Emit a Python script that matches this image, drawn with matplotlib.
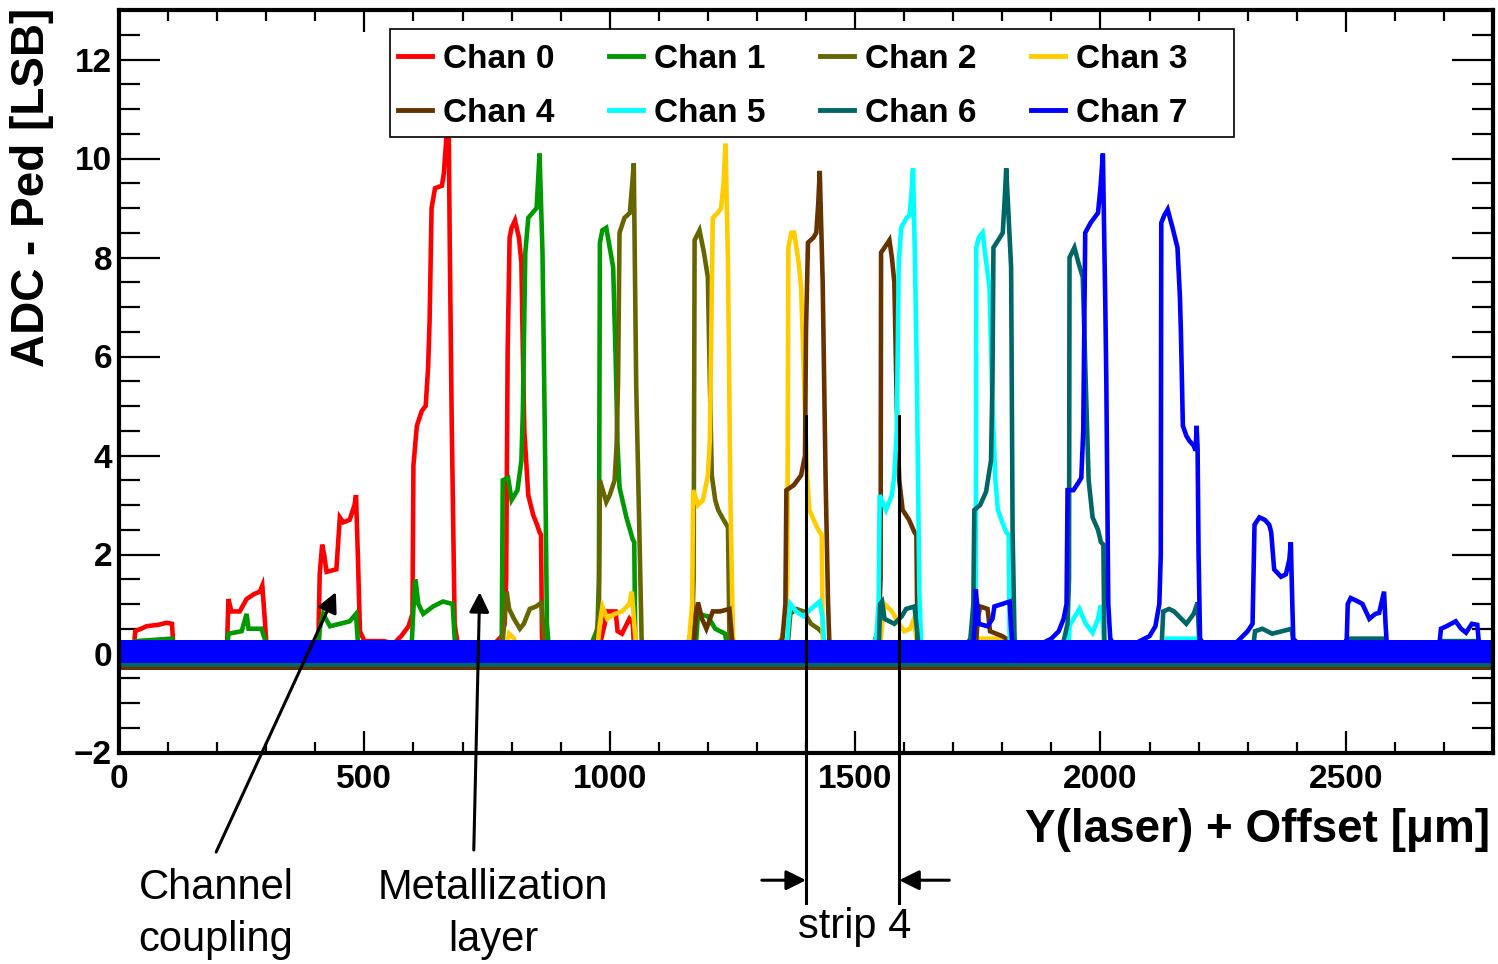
import numpy as np
import matplotlib
matplotlib.use('Agg')
import matplotlib.pyplot as plt
from matplotlib.ticker import MultipleLocator
from matplotlib.patches import Rectangle
from matplotlib.lines import Line2D

plt.rcParams['font.family'] = ['Liberation Sans', 'DejaVu Sans']

# ---- laser scan profiles, (Y position [um], ADC - Ped [LSB]) breakpoints per channel
chan0 = [(0, 0.05), (30, 0.05), (33, 0.45), (45, 0.5), (56, 0.55), (80, 0.58), (97, 0.62), (108, 0.6), (111, 0.1),
         (220, 0.1), (223, 1.1), (229, 0.85), (246, 0.85), (260, 1.1), (275, 1.2), (287, 1.25), (292, 1.37), (297, 0.7), (301, 0.1),
         (406, 0.1), (409, 1.6), (414, 2.2), (418, 2.0), (423, 1.65), (443, 1.7), (450, 2.75), (457, 2.65), (470, 2.7),
         (480, 3.0), (483, 3.2), (487, 1.9), (491, 0.45), (500, 0.25), (540, 0.25), (560, 0.2),
         (575, 0.35), (590, 0.55), (598, 0.8), (600, 3.8), (607, 4.6), (617, 4.9), (625, 5.0), (630, 5.8), (633, 6.75),
         (637, 9.0), (644, 9.4), (658, 9.45), (662, 9.7), (668, 10.55), (672, 10.5), (674, 8.3), (678, 4.7), (684, 0.6), (690, 0.2),
         (740, 0.1), (765, 0.2), (780, 0.35), (786, 0.6), (789, 1.5), (792, 6.1), (796, 8.4), (800, 8.6), (807, 8.75),
         (815, 8.4), (820, 7.9), (823, 6.1), (826, 4.5), (834, 3.2), (844, 2.8), (852, 2.6), (857, 2.45), (860, 2.4), (862, 0.3), (870, 0.1),
         (978, 0.1), (990, 0.6), (993, 0.85), (1012, 0.85), (1016, 0.45), (1025, 0.4), (1040, 0.7), (1047, 0.6), (1050, 0.05),
         (2800, 0.05)]

chan1 = [(0, 0.0), (30, 0.0), (33, 0.25), (108, 0.3), (111, 0.0), (220, 0.0), (223, 0.4), (250, 0.45), (260, 0.8),
         (264, 0.5), (290, 0.5), (297, 0.3), (301, 0.0),
         (406, 0.0), (409, 0.5), (416, 0.8), (430, 0.55), (450, 0.6), (470, 0.65), (483, 0.8), (487, 0.2), (491, 0.0),
         (596, 0.1), (600, 0.9), (604, 1.5), (610, 1.0), (620, 0.8), (640, 0.95), (660, 1.05), (680, 1.0), (684, 0.3), (690, 0.05),
         (775, 0.1), (780, 0.3), (782, 3.5), (793, 3.55), (800, 3.1), (812, 3.3), (820, 3.9), (823, 4.9), (828, 8.1),
         (834, 8.8), (851, 9.0), (857, 10.1), (863, 8.1), (868, 4.3), (872, 0.6), (876, 0.1),
         (950, 0.1), (965, 0.25), (975, 0.5), (978, 1.5), (980, 8.3), (985, 8.55), (993, 8.6), (1000, 8.2), (1007, 7.8),
         (1012, 6.0), (1016, 4.2), (1020, 3.35), (1034, 2.75), (1047, 2.3), (1050, 2.25), (1052, 0.3), (1060, 0.1),
         (1175, 0.1), (1180, 0.8), (1200, 0.75), (1215, 0.5), (1235, 0.4), (1241, 0.05),
         (2800, 0.0)]

chan2 = [(0, -0.05), (780, -0.05), (786, 0.8), (790, 1.25), (795, 0.9), (805, 0.7), (817, 0.5), (825, 0.6), (837, 0.9),
         (850, 0.95), (861, 1.03), (864, 0.6), (868, 0.0),
         (960, 0.1), (972, 0.3), (978, 0.8), (980, 3.5), (993, 3.06), (1000, 3.2), (1010, 3.5), (1014, 4.2), (1017, 5.5),
         (1020, 8.5), (1030, 8.8), (1041, 8.9), (1046, 9.5), (1049, 9.9), (1054, 5.4), (1061, 2.2), (1065, 0.3), (1068, 0.0),
         (1140, 0.05), (1160, 0.2), (1168, 0.5), (1171, 1.5), (1173, 8.35), (1178, 8.45), (1183, 8.55), (1192, 8.1),
         (1200, 7.6), (1204, 5.5), (1208, 3.6), (1215, 3.1), (1221, 2.9), (1232, 2.7), (1241, 2.55), (1244, 0.3), (1250, 0.0),
         (1362, 0.05), (1368, 0.8), (1380, 0.9), (1395, 0.85), (1410, 0.6), (1425, 0.5), (1435, 0.4), (1440, -0.05),
         (2800, -0.05)]

chan3 = [(0, -0.05), (786, -0.05), (795, 0.4), (805, 0.3), (815, -0.05),
         (975, 0.1), (980, 0.6), (985, 0.95), (995, 0.7), (1010, 0.8), (1025, 0.85), (1040, 1.0), (1045, 1.25), (1050, 0.6), (1055, 0.0),
         (1150, 0.1), (1162, 0.3), (1168, 1.0), (1170, 3.3), (1180, 3.0), (1190, 3.1), (1200, 3.6), (1204, 4.3),
         (1210, 8.8), (1220, 8.9), (1227, 9.0), (1232, 9.5), (1236, 10.3), (1241, 7.9), (1246, 3.1), (1251, 0.4), (1255, 0.0),
         (1330, 0.1), (1350, 0.3), (1358, 0.6), (1362, 1.5), (1364, 8.2), (1370, 8.5), (1376, 8.5), (1385, 7.9), (1390, 7.4),
         (1396, 5.5), (1402, 3.6), (1407, 2.9), (1420, 2.6), (1428, 2.45), (1432, 2.4), (1434, 0.3), (1440, 0.0),
         (1550, 0.0), (1555, 0.6), (1560, 1.0), (1575, 0.85), (1590, 0.6), (1600, 0.45), (1612, 0.5), (1620, 0.7), (1625, 0.3), (1630, 0.0),
         (1745, -0.05), (1750, 0.3), (1800, 0.3), (1810, -0.1),
         (2800, -0.1)]

chan4 = [(0, 0.0), (1170, 0.0), (1176, 0.8), (1180, 1.03), (1188, 0.7), (1197, 0.5), (1210, 0.85), (1225, 0.85),
         (1244, 0.9), (1250, 0.2), (1255, 0.0),
         (1340, 0.1), (1352, 0.3), (1358, 1.0), (1360, 3.3), (1375, 3.4), (1390, 3.6), (1398, 4.0), (1400, 6.5),
         (1404, 8.3), (1415, 8.4), (1421, 8.5), (1425, 9.1), (1428, 9.75), (1434, 7.5), (1440, 3.5), (1445, 1.0), (1448, 0.1),
         (1520, 0.05), (1540, 0.25), (1548, 0.5), (1552, 1.5), (1553, 8.1), (1560, 8.2), (1570, 8.35), (1575, 8.0),
         (1580, 7.5), (1585, 5.0), (1590, 3.5), (1597, 2.9), (1610, 2.7), (1621, 2.45), (1625, 2.4), (1627, 0.3), (1632, -0.05),
         (1745, -0.05), (1750, 0.7), (1755, 0.95), (1770, 0.9), (1775, 0.45), (1800, 0.35), (1808, 0.3), (1812, -0.1),
         (1830, -0.15), (2800, -0.15)]

chan5 = [(0, 0.0), (1360, 0.05), (1365, 0.7), (1368, 1.0), (1380, 0.85), (1395, 0.75), (1410, 0.9), (1428, 1.05),
         (1434, 0.7), (1438, 0.05),
         (1530, 0.1), (1543, 0.3), (1548, 1.0), (1550, 3.2), (1563, 2.9), (1575, 3.2), (1580, 3.6), (1585, 4.5),
         (1589, 7.9), (1594, 8.6), (1605, 8.8), (1611, 8.85), (1615, 9.3), (1618, 9.8), (1622, 8.0), (1626, 5.5), (1631, 1.2), (1635, 0.1),
         (1715, 0.05), (1735, 0.25), (1742, 0.6), (1746, 1.5), (1747, 8.2), (1752, 8.4), (1760, 8.5), (1766, 8.0),
         (1774, 7.4), (1780, 5.0), (1786, 3.5), (1791, 2.9), (1800, 2.65), (1808, 2.45), (1813, 2.4), (1815, 0.3), (1820, 0.0),
         (1935, 0.05), (1937, 0.56), (1945, 0.7), (1957, 0.9), (1970, 0.6), (1984, 0.42), (1995, 0.7), (2001, 0.97),
         (2005, 0.6), (2008, 0.05),
         (2130, 0.0), (2135, 0.3), (2195, 0.3), (2200, 0.0),
         (2315, 0.0), (2320, 0.2), (2390, 0.2), (2395, 0.0),
         (2800, 0.0)]

chan6 = [(0, 0.0), (1548, 0.0), (1551, 1.0), (1555, 1.05), (1560, 0.7), (1580, 0.6), (1595, 0.75), (1604, 0.9),
         (1621, 0.95), (1626, 0.5), (1631, -0.05),
         (1722, 0.1), (1735, 0.3), (1741, 1.0), (1743, 2.9), (1755, 3.0), (1767, 3.27), (1777, 3.9), (1780, 5.5),
         (1782, 8.2), (1795, 8.4), (1801, 8.5), (1805, 9.2), (1808, 9.8), (1813, 8.8), (1818, 7.8), (1821, 2.5), (1825, 0.3), (1829, 0.0),
         (1905, 0.05), (1925, 0.25), (1933, 0.6), (1936, 1.5), (1937, 8.0), (1942, 8.1), (1947, 8.2), (1955, 7.9),
         (1964, 7.6), (1970, 5.5), (1976, 3.5), (1984, 2.75), (1995, 2.5), (2001, 2.25), (2006, 2.2), (2008, 0.3), (2012, 0.0),
         (2124, 0.0), (2128, 0.85), (2140, 0.9), (2150, 0.85), (2165, 0.7), (2175, 0.6), (2190, 0.8), (2198, 1.03), (2202, 0.1),
         (2310, 0.0), (2315, 0.45), (2330, 0.5), (2350, 0.4), (2370, 0.45), (2390, 0.5), (2395, 0.05),
         (2500, 0.0), (2505, 0.3), (2580, 0.3), (2585, 0.0),
         (2690, 0.0), (2695, 0.25), (2770, 0.25), (2775, 0.0),
         (2800, 0.0)]

chan7 = [(0, 0.08), (1740, 0.08), (1744, 0.6), (1746, 1.3), (1752, 0.6), (1770, 0.55), (1780, 0.7), (1784, 0.95),
         (1800, 1.0), (1815, 1.05), (1818, 0.5), (1821, 0.12),
         (1860, 0.1), (1880, 0.2), (1900, 0.3), (1915, 0.45), (1925, 0.7), (1931, 1.0),
         (1933, 3.3), (1945, 3.3), (1955, 3.45), (1961, 3.55), (1965, 4.5), (1969, 8.5), (1980, 8.7), (1995, 8.9),
         (2000, 9.4), (2005, 10.1), (2010, 7.0), (2012, 5.5), (2016, 1.0), (2020, 0.3), (2030, 0.15),
         (2060, 0.15), (2080, 0.25), (2100, 0.35), (2112, 0.55), (2120, 1.0), (2123, 2.0),
         (2124, 8.7), (2130, 8.85), (2137, 8.97), (2147, 8.6), (2157, 8.2), (2162, 7.2), (2164, 6.5), (2168, 4.6),
         (2175, 4.4), (2181, 4.3), (2190, 4.2), (2194, 4.1), (2196, 4.6), (2198, 4.15), (2200, 2.0), (2203, 0.3), (2215, 0.12),
         (2260, 0.12), (2280, 0.25), (2300, 0.45), (2310, 0.6),
         (2314, 2.6), (2324, 2.75), (2335, 2.7), (2344, 2.6), (2348, 2.45), (2354, 1.7), (2368, 1.55), (2378, 1.6),
         (2385, 1.9), (2388, 2.25), (2391, 1.0), (2393, 0.3), (2410, 0.12),
         (2495, 0.12), (2502, 0.3), (2504, 1.0), (2510, 1.12), (2525, 1.05), (2534, 1.0), (2548, 0.7), (2560, 0.8),
         (2568, 0.82), (2578, 1.25), (2581, 0.6), (2584, 0.12),
         (2690, 0.12), (2694, 0.5), (2705, 0.55), (2724, 0.65), (2735, 0.5), (2745, 0.42), (2757, 0.6), (2768, 0.58),
         (2772, 0.12), (2800, 0.12)]

channels = [chan0, chan1, chan2, chan3, chan4, chan5, chan6, chan7]
labels = ['Chan 0', 'Chan 1', 'Chan 2', 'Chan 3', 'Chan 4', 'Chan 5', 'Chan 6', 'Chan 7']
colors = ['#ff0000', '#009900', '#666600', '#ffcc00', '#663300', '#00ffff', '#006666', '#0000ff']

# pedestal noise envelope [LSB]: lower fringe of the slow channels, then the blue band on top
noise_lo = [None, None, None, -0.3, -0.34, None, -0.27, -0.2]
noise_hi = [None, None, None, 0.0, 0.0, None, 0.0, 0.28]

strip4 = [1400, 1590]          # strip 4 edges [um]
coupling_tip = (442, 1.24)
metal_tip = (735, 1.24)

W, H = 1498, 964


def fx(px):
    return px / W


def fy(py):
    return 1 - py / H


fig = plt.figure(figsize=(W / 100, H / 100), dpi=100)
ax = fig.add_axes([fx(119), fy(752.5), (1493 - 119) / W, (752.5 - 10) / H])

last = len(channels) - 1
for i in range(len(channels)):
    if noise_lo[i] is not None:
        # the last channel's noise is drawn over the earlier traces
        z = 3 if i == last else 1
        ax.fill_between([0, 2800], noise_lo[i], noise_hi[i], color=colors[i], lw=0, zorder=z)
for i, pts in enumerate(channels):
    arr = np.array(pts)
    ax.plot(arr[:, 0], arr[:, 1], color=colors[i], lw=3.3, zorder=4 if i == last else 2,
            solid_joinstyle='miter')

ax.set_xlim(0, 2800)
ax.set_ylim(-2, 13)
ax.xaxis.set_major_locator(MultipleLocator(500))
ax.xaxis.set_minor_locator(MultipleLocator(100))
ax.yaxis.set_major_locator(MultipleLocator(2))
ax.yaxis.set_minor_locator(MultipleLocator(0.5))
ax.tick_params(which='both', direction='in', top=True, right=True, width=1.6, labelsize=24)
ax.tick_params(axis='x', which='major', length=16, pad=8)
ax.tick_params(axis='x', which='minor', length=8)
ax.tick_params(axis='y', which='major', length=29.5, pad=5)
ax.tick_params(axis='y', which='minor', length=14.8)
for lab in ax.get_xticklabels() + ax.get_yticklabels():
    lab.set_fontweight('bold')
for sp in ax.spines.values():
    sp.set_linewidth(3)
    sp.set_zorder(6)

fig.text(fx(32), fy(8), 'ADC - Ped [LSB]', rotation=90, ha='center', va='top',
         fontsize=33, fontweight='bold')
fig.text(fx(1490), fy(830), 'Y(laser) + Offset [μm]', ha='right', va='center',
         fontsize=33, fontweight='bold')

# legend box, two rows of four
fig.patches.append(Rectangle((fx(390), fy(137)), (1234 - 390) / W, (137 - 29) / H,
                             transform=fig.transFigure, facecolor='white',
                             edgecolor='black', lw=1.2, zorder=5))
for i, lab in enumerate(labels):
    col, row = i % 4, i // 4
    x0 = 398 + 211 * col
    yc = 56 + 54 * row
    fig.lines.append(Line2D([fx(x0), fx(x0 + 34)], [fy(yc), fy(yc)], transform=fig.transFigure,
                            color=colors[i], lw=3.5, zorder=6))
    fig.text(fx(x0 + 45), fy(yc + 4), lab, ha='left', va='center', fontsize=24,
             fontweight='bold', zorder=7)

# annotations below the frame
arrow = dict(arrowstyle='-|>', color='black', lw=2.2, mutation_scale=30, shrinkA=0, shrinkB=0)
ax.annotate('', xy=coupling_tip, xytext=(198, -4.01), arrowprops=arrow, annotation_clip=False, zorder=8)
ax.annotate('', xy=metal_tip, xytext=(723, -3.97), arrowprops=arrow, annotation_clip=False, zorder=8)
for xs in strip4:
    ax.plot([xs, xs], [4.8, -5.05], color='black', lw=2.2, clip_on=False, zorder=8)
ax.annotate('', xy=(strip4[0], -4.58), xytext=(1310, -4.58), arrowprops=arrow, annotation_clip=False)
ax.annotate('', xy=(strip4[1], -4.58), xytext=(1692, -4.58), arrowprops=arrow, annotation_clip=False)

fig.text(fx(216), fy(888), 'Channel', ha='center', va='center', fontsize=30)
fig.text(fx(216), fy(940), 'coupling', ha='center', va='center', fontsize=30)
fig.text(fx(493), fy(888), 'Metallization', ha='center', va='center', fontsize=30)
fig.text(fx(493), fy(940), 'layer', ha='center', va='center', fontsize=30)
fig.text(fx(855), fy(927), 'strip 4', ha='center', va='center', fontsize=30)

fig.savefig('out.png', dpi=100)
